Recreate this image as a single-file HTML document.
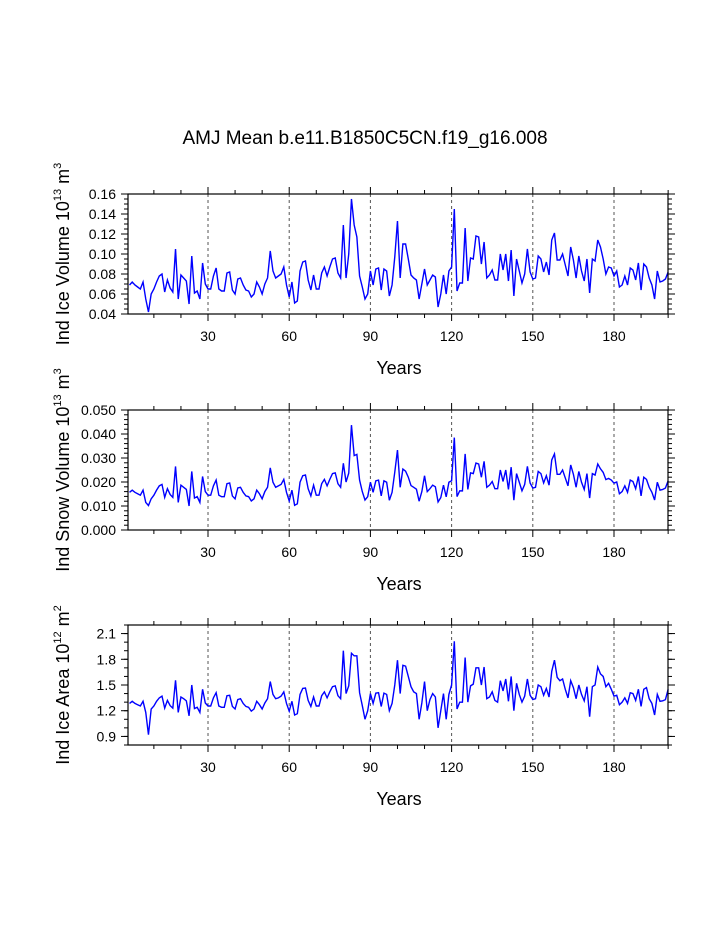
<!DOCTYPE html>
<html><head><meta charset="utf-8">
<style>
body{margin:0;background:#fff;}
svg{display:block;font-family:"Liberation Sans",Arial,sans-serif;}
</style></head>
<body>
<svg id="chart" width="723" height="935" xmlns="http://www.w3.org/2000/svg">
<text x="365" y="144" font-size="19" text-anchor="middle">AMJ Mean b.e11.B1850C5CN.f19_g16.008</text>
</svg>
<script>
const years = Array.from({length:200}, (_, i) => i + 1);
const iceVolume = [0.069,0.072,0.069,0.067,0.065,0.072,0.055,0.042,0.060,0.065,0.072,0.078,0.080,0.062,0.074,0.066,0.062,0.105,0.055,0.079,0.076,0.073,0.050,0.098,0.061,0.063,0.055,0.091,0.070,0.065,0.065,0.078,0.086,0.065,0.063,0.063,0.081,0.082,0.064,0.060,0.075,0.076,0.069,0.064,0.063,0.057,0.060,0.072,0.067,0.060,0.070,0.076,0.103,0.083,0.076,0.078,0.080,0.087,0.069,0.057,0.072,0.051,0.053,0.083,0.092,0.093,0.074,0.064,0.079,0.065,0.065,0.081,0.087,0.078,0.087,0.095,0.096,0.081,0.076,0.129,0.076,0.100,0.155,0.129,0.117,0.078,0.067,0.055,0.060,0.083,0.069,0.085,0.086,0.064,0.085,0.083,0.058,0.069,0.097,0.133,0.076,0.110,0.110,0.095,0.079,0.076,0.074,0.055,0.070,0.085,0.069,0.074,0.079,0.077,0.047,0.060,0.079,0.060,0.083,0.087,0.145,0.063,0.071,0.071,0.126,0.073,0.096,0.095,0.118,0.117,0.090,0.112,0.076,0.079,0.084,0.074,0.074,0.100,0.084,0.100,0.073,0.104,0.058,0.095,0.083,0.071,0.080,0.105,0.082,0.075,0.076,0.098,0.095,0.082,0.092,0.079,0.114,0.121,0.094,0.094,0.100,0.089,0.078,0.107,0.094,0.076,0.098,0.083,0.073,0.095,0.061,0.095,0.093,0.114,0.107,0.095,0.080,0.087,0.086,0.078,0.083,0.067,0.069,0.078,0.069,0.086,0.084,0.074,0.091,0.064,0.090,0.087,0.076,0.069,0.055,0.083,0.072,0.073,0.075,0.082];
const snowVolume = [0.0157,0.0166,0.0157,0.0151,0.0145,0.0166,0.0115,0.0102,0.0130,0.0145,0.0166,0.0184,0.0190,0.0136,0.0172,0.0148,0.0136,0.0265,0.0115,0.0187,0.0178,0.0169,0.0100,0.0244,0.0133,0.0139,0.0115,0.0223,0.0160,0.0145,0.0145,0.0184,0.0208,0.0145,0.0139,0.0139,0.0193,0.0196,0.0142,0.0130,0.0175,0.0178,0.0157,0.0142,0.0139,0.0121,0.0130,0.0166,0.0151,0.0130,0.0160,0.0178,0.0259,0.0199,0.0178,0.0184,0.0190,0.0211,0.0157,0.0121,0.0166,0.0103,0.0109,0.0199,0.0226,0.0229,0.0172,0.0142,0.0187,0.0145,0.0145,0.0193,0.0211,0.0184,0.0211,0.0235,0.0238,0.0193,0.0178,0.0278,0.0200,0.0237,0.0437,0.0310,0.0315,0.0208,0.0160,0.0125,0.0139,0.0199,0.0157,0.0205,0.0208,0.0142,0.0205,0.0199,0.0124,0.0157,0.0241,0.0333,0.0178,0.0254,0.0245,0.0220,0.0185,0.0178,0.0170,0.0120,0.0160,0.0226,0.0160,0.0172,0.0187,0.0180,0.0117,0.0135,0.0187,0.0138,0.0199,0.0205,0.0385,0.0139,0.0163,0.0163,0.0317,0.0169,0.0238,0.0235,0.0279,0.0275,0.0220,0.0286,0.0178,0.0187,0.0202,0.0172,0.0172,0.0250,0.0202,0.0250,0.0169,0.0262,0.0124,0.0235,0.0199,0.0163,0.0190,0.0265,0.0196,0.0175,0.0178,0.0244,0.0235,0.0196,0.0226,0.0187,0.0292,0.0317,0.0232,0.0232,0.0250,0.0217,0.0184,0.0271,0.0232,0.0178,0.0244,0.0199,0.0169,0.0235,0.0133,0.0235,0.0229,0.0275,0.0255,0.0240,0.0210,0.0215,0.0208,0.0195,0.0200,0.0151,0.0160,0.0184,0.0157,0.0208,0.0202,0.0172,0.0223,0.0142,0.0220,0.0211,0.0178,0.0157,0.0125,0.0199,0.0166,0.0169,0.0175,0.0205];
const iceArea = [1.285,1.31,1.285,1.27,1.255,1.31,1.18,0.92,1.22,1.255,1.31,1.35,1.37,1.23,1.32,1.26,1.23,1.555,1.18,1.36,1.34,1.315,1.14,1.50,1.225,1.24,1.18,1.45,1.29,1.255,1.255,1.35,1.41,1.255,1.24,1.24,1.375,1.38,1.25,1.22,1.33,1.34,1.285,1.25,1.24,1.195,1.22,1.31,1.27,1.22,1.29,1.34,1.54,1.39,1.34,1.35,1.37,1.42,1.285,1.195,1.31,1.15,1.165,1.39,1.46,1.465,1.32,1.25,1.36,1.255,1.255,1.375,1.42,1.35,1.42,1.48,1.49,1.375,1.34,1.90,1.40,1.49,1.87,1.84,1.84,1.41,1.26,1.10,1.20,1.40,1.285,1.405,1.41,1.25,1.405,1.39,1.20,1.285,1.50,1.79,1.40,1.73,1.72,1.60,1.48,1.42,1.40,1.10,1.29,1.54,1.20,1.33,1.40,1.36,1.00,1.20,1.40,1.10,1.39,1.50,2.01,1.22,1.30,1.30,1.82,1.30,1.49,1.51,1.70,1.70,1.50,1.71,1.34,1.36,1.42,1.32,1.30,1.55,1.43,1.57,1.31,1.60,1.20,1.52,1.39,1.30,1.37,1.57,1.38,1.33,1.34,1.50,1.48,1.38,1.46,1.36,1.66,1.79,1.59,1.55,1.57,1.45,1.35,1.55,1.47,1.34,1.50,1.39,1.315,1.48,1.13,1.48,1.50,1.71,1.63,1.60,1.48,1.52,1.45,1.37,1.38,1.27,1.30,1.35,1.285,1.41,1.40,1.32,1.45,1.25,1.45,1.47,1.34,1.285,1.15,1.39,1.31,1.315,1.33,1.45];
const xTickLabels = [30,60,90,120,150,180];
const iceVolTicks = [0.04,0.06,0.08,0.10,0.12,0.14,0.16];
const snowTicks = [0.000,0.010,0.020,0.030,0.040,0.050];
const areaTicks = [0.9,1.2,1.5,1.8,2.1];

const NS='http://www.w3.org/2000/svg';
const svg=document.getElementById('chart');
function el(tag,attrs,parent){const e=document.createElementNS(NS,tag);for(const k in attrs)e.setAttribute(k,attrs[k]);(parent||svg).appendChild(e);return e;}
const L=128,R=668,X0=0.44,X1=199.95;
function xs(v){return L+(v-X0)/(X1-X0)*(R-L);}

function panel(cfg){
  const g=el('g',{});
  
  
  const T=cfg.top,B=cfg.bottom;
  const ys=v=>B-(v-cfg.ymin)/(cfg.ymax-cfg.ymin)*(B-T);
  xTickLabels.forEach(t=>{
    const ln=el('line',{x1:xs(t),x2:xs(t),y1:T,y2:B,stroke:'#555','stroke-width':1,'stroke-dasharray':'3,3'},g);
    
    
  });
  for(let t=10;t<=200;t+=10){
    const major=t%30===0, len=major?7:4;
    el('line',{x1:xs(t),x2:xs(t),y1:B,y2:B+len,stroke:'#000','stroke-width':1},g);
    el('line',{x1:xs(t),x2:xs(t),y1:T,y2:T-len,stroke:'#000','stroke-width':1},g);
  }
  xTickLabels.forEach(t=>{
    const tx=el('text',{x:xs(t),y:B+27,'font-size':14,'text-anchor':'middle'},g);
    tx.textContent=t;
    
    
  });
  for(let v=cfg.ymin;v<=cfg.ymax+1e-9;v+=cfg.minor){
    const y=ys(v);
    el('line',{x1:L,x2:L-4,y1:y,y2:y,stroke:'#000','stroke-width':1},g);
    el('line',{x1:R,x2:R+4,y1:y,y2:y,stroke:'#000','stroke-width':1},g);
  }
  cfg.ticks.forEach(v=>{
    const y=ys(v);
    el('line',{x1:L,x2:L-7,y1:y,y2:y,stroke:'#000','stroke-width':1},g);
    el('line',{x1:R,x2:R+7,y1:y,y2:y,stroke:'#000','stroke-width':1},g);
    const tx=el('text',{x:L-12,y:y+5,'font-size':14,'text-anchor':'end'},g);
    tx.textContent=v.toFixed(cfg.dec);
    
    
  });
  const d=cfg.data.map((v,i)=>(i?'L':'M')+xs(years[i]).toFixed(2)+','+ys(v).toFixed(2)).join(' ');
  const p=el('path',{d:d,fill:'none',stroke:'#0000ff','stroke-width':1.4},g);
  
  
  const fr=el('rect',{x:L,y:T,width:R-L,height:B-T,fill:'none',stroke:'#000','stroke-width':1.2},g);
  
  
  const xt=el('text',{x:(L+R)/2+1,y:B+60,'font-size':18,'text-anchor':'middle'},g);
  xt.textContent='Years';
  
  
  const yt=el('text',{transform:'translate(69,'+((T+B)/2)+') rotate(-90)','font-size':18,'text-anchor':'middle'},g);
  yt.innerHTML=cfg.ylabel;
  
  
}
panel({name:'ice-volume-panel',top:194,bottom:314,ymin:0.04,ymax:0.16,minor:0.005,ticks:iceVolTicks,dec:2,data:iceVolume,
  ylabel:'Ind Ice Volume 10<tspan dy="-8" font-size="11">13</tspan><tspan dy="8"> m</tspan><tspan dy="-8" font-size="11">3</tspan>'});
panel({name:'snow-volume-panel',top:410,bottom:530,ymin:0,ymax:0.05,minor:0.002,ticks:snowTicks,dec:3,data:snowVolume,
  ylabel:'Ind Snow Volume 10<tspan dy="-8" font-size="11">13</tspan><tspan dy="8"> m</tspan><tspan dy="-8" font-size="11">3</tspan>'});
panel({name:'ice-area-panel',top:625,bottom:745,ymin:0.8,ymax:2.2,minor:0.1,ticks:areaTicks,dec:1,data:iceArea,
  ylabel:'Ind Ice Area 10<tspan dy="-8" font-size="11">12</tspan><tspan dy="8"> m</tspan><tspan dy="-8" font-size="11">2</tspan>'});
</script>
</body></html>
